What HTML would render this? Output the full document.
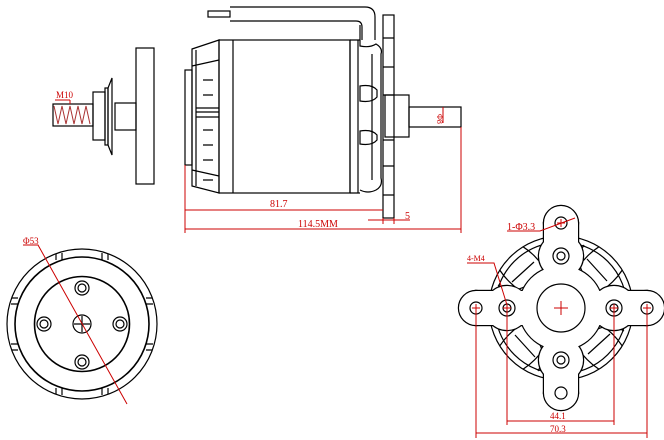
<!DOCTYPE html>
<html><head><style>html,body{margin:0;padding:0;background:#fff}svg{display:block}</style></head><body>
<svg width="664" height="440" viewBox="0 0 664 440" xmlns="http://www.w3.org/2000/svg" font-family="Liberation Sans, sans-serif">
<defs><clipPath id="cc"><circle cx="561" cy="308" r="72"/></clipPath></defs>
<g fill="none" stroke="#000" stroke-width="1.2">
<rect x="208" y="11" width="22" height="6"/>
<path d="M230 7 H365 Q375 7 375 17 V40 M230 21 H356 Q362 21 362 27 V40"/>
<rect x="383" y="15" width="11" height="203"/>
<path d="M383 38H394M383 67H394M383 95H394M383 140H394M383 166H394M383 195H394"/>
<rect x="185" y="70" width="7" height="95"/>
<path d="M192 49 L219 40 V193 L192 186 Z"/>
<path d="M196 50V186M192 66L219 60M192 170L219 176M196 108H219M196 117H219M196 112H219"/>
<path d="M203 80H213M203 95H213M203 130H213M203 145H213M203 160H213M203 180H213"/>
<rect x="219" y="40" width="131" height="153"/>
<path d="M233 40V193M350 40V193M358 40V193M350 40H360M350 193H360"/>
<path d="M360 25 V46 Q370 48 376 44 Q383 48 381 54 V178 Q383 186 376 190 Q368 194 360 190"/>
<path d="M360 86 Q372 84 377 90 V97 Q372 103 360 101 Z M360 131 Q372 129 377 135 V140 Q372 146 360 144 Z"/>
<path d="M372 54 V180"/>
<rect x="385" y="95" width="24" height="42"/>
<rect x="409" y="107" width="52" height="20"/>
<rect x="136" y="48" width="18" height="136"/>
<rect x="115" y="103" width="21" height="27"/>
<path d="M112 78 L108 88 V145 L112 155 Z"/>
<rect x="105" y="88" width="3" height="57"/>
<rect x="93" y="92" width="12" height="48"/>
<rect x="53" y="104" width="40" height="22"/>
</g>
<path d="M54 106 L58 124 L62 106 L66 124 L70 106 L74 124 L78 106 L82 124 L86 106 L90 124" fill="none" stroke="#a33" stroke-width="1"/>
<g stroke="#c00" stroke-width="1" fill="none">
<path d="M185 165V233M461 127V233M383 218V224M394 218V224"/>
<path d="M185 210H383M185 229H461M368 220H410M443 107V123M55 100H70M70 100V104"/>
</g>
<g fill="#c00" font-size="10" font-family="Liberation Serif, serif">
<text x="270" y="207">81.7</text>
<text x="298" y="227">114.5MM</text>
<text x="405" y="219">5</text>
<text x="56" y="98" font-size="9">M10</text>
<text x="0" y="0" font-size="8" transform="translate(437,114) rotate(90)">Φ8</text>
<text x="23" y="244" font-size="9">Φ53</text>
</g>
<g fill="none" stroke="#000" stroke-width="1.2">
<circle cx="82" cy="324" r="75"/>
<circle cx="82" cy="324" r="67" stroke-width="1.6"/>
<circle cx="82" cy="324" r="47.5" stroke-width="1.6"/>
<circle cx="82" cy="324" r="9"/>
<circle cx="82" cy="288" r="7"/><circle cx="82" cy="288" r="4"/>
<circle cx="82" cy="362" r="7"/><circle cx="82" cy="362" r="4"/>
<circle cx="44" cy="324" r="7"/><circle cx="44" cy="324" r="4"/>
<circle cx="120" cy="324" r="7"/><circle cx="120" cy="324" r="4"/>
<path d="M74 324H90M82 316V332"/>
<g transform="translate(82,324)">
<path d="M-20 -71V-64M-26 -70V-64M20 -71V-64M26 -70V-64M-20 71V64M-26 70V64M20 71V64M26 70V64"/>
<path d="M-71 -20H-64M-70 -26H-64M71 -20H64M70 -26H64M-71 20H-64M-70 26H-64M71 20H64M70 26H64"/>
</g>
</g>
<path d="M23 245H38L127 404" fill="none" stroke="#c00" stroke-width="1"/>
<g fill="none" stroke="#000" stroke-width="1.2">
<circle cx="561" cy="308" r="72"/>
<circle cx="561" cy="308" r="66"/>
<g clip-path="url(#cc)">
<g id="pt"><ellipse cx="522" cy="269" rx="36" ry="18" transform="rotate(45 522 269)"/><path d="M500 258 L518 244 M512 282 L534 262 M498 285 Q512 294 526 286"/></g>
<use href="#pt" transform="rotate(90 561 308)"/>
<use href="#pt" transform="rotate(180 561 308)"/>
<use href="#pt" transform="rotate(270 561 308)"/>
</g>
</g>
<g fill="none" stroke="#000" stroke-width="2.4">
<circle cx="476" cy="308" r="17"/><circle cx="647" cy="308" r="17"/><circle cx="561" cy="223" r="17"/><circle cx="561" cy="393" r="17"/>
<circle cx="507" cy="308" r="22"/><circle cx="614" cy="308" r="22"/><circle cx="561" cy="256" r="22"/><circle cx="561" cy="360" r="22"/>
<circle cx="561" cy="308" r="42"/><rect x="476" y="291" width="171" height="34"/><rect x="544" y="223" width="34" height="170"/>
</g>
<g fill="#fff">
<circle cx="476" cy="308" r="17"/><circle cx="647" cy="308" r="17"/><circle cx="561" cy="223" r="17"/><circle cx="561" cy="393" r="17"/>
<circle cx="507" cy="308" r="22"/><circle cx="614" cy="308" r="22"/><circle cx="561" cy="256" r="22"/><circle cx="561" cy="360" r="22"/>
<circle cx="561" cy="308" r="42"/><rect x="476" y="291" width="171" height="34"/><rect x="544" y="223" width="34" height="170"/>
</g>
<g fill="none" stroke="#000" stroke-width="1.2">
<circle cx="561" cy="308" r="24"/>
<circle cx="476" cy="308" r="6"/><circle cx="647" cy="308" r="6"/><circle cx="561" cy="223" r="6"/><circle cx="561" cy="393" r="6"/>
<circle cx="507" cy="308" r="8"/><circle cx="507" cy="308" r="4"/>
<circle cx="614" cy="308" r="8"/><circle cx="614" cy="308" r="4"/>
<circle cx="561" cy="256" r="8"/><circle cx="561" cy="256" r="4"/>
<circle cx="561" cy="360" r="8"/><circle cx="561" cy="360" r="4"/>
</g>
<g stroke="#c00" stroke-width="1" fill="none">
<path d="M554 308H568M561 301V315"/>
<path d="M472 308H480M476 304V312M643 308H651M647 304V312M557 223H565M561 219V227M503 308H511M507 304V312M610 308H618M614 304V312"/>
<path d="M476 308V438M647 308V438M507 308V425M614 308V425M507 421H614M476 433H647"/>
<path d="M507 231H540L575 218M467 263H494L507 305"/>
</g>
<g fill="#c00" font-family="Liberation Serif, serif">
<text x="507" y="230" font-size="10">1-Φ3.3</text>
<text x="467" y="261" font-size="8">4-M4</text>
<text x="550" y="419" font-size="9">44.1</text>
<text x="550" y="432" font-size="9">70.3</text>
</g>
</svg>
</body></html>
